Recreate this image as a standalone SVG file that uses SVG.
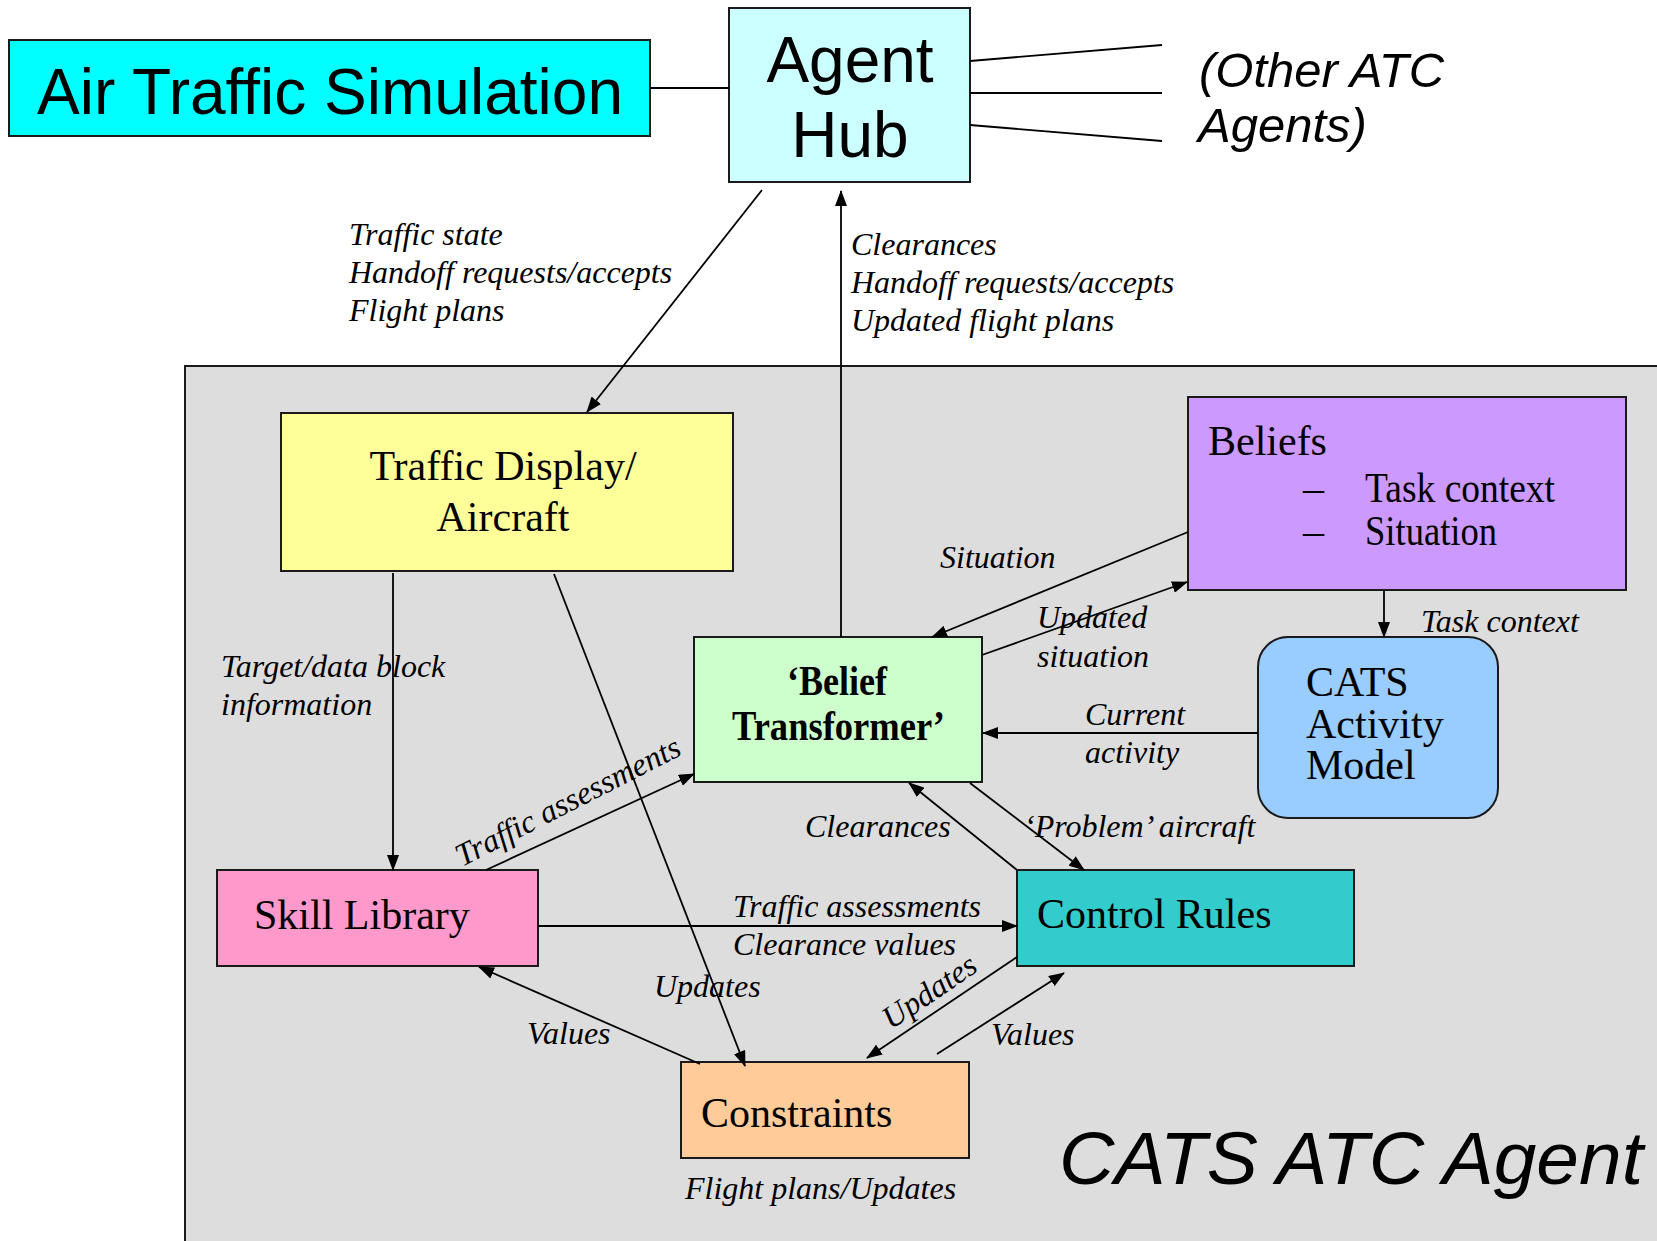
<svg xmlns="http://www.w3.org/2000/svg" width="1657" height="1241" viewBox="0 0 1657 1241">
<defs>
<marker id="ah" viewBox="0 0 16 12" refX="15" refY="6" markerWidth="16" markerHeight="12" markerUnits="userSpaceOnUse" orient="auto">
<path d="M0,0 L16,6 L0,12 z" fill="#000"/>
</marker>
<style>
.box{stroke:#1a1a1a;stroke-width:2}
.con{stroke:#000;stroke-width:1.8;fill:none}
.arr{marker-end:url(#ah)}
.sans{font-family:"Liberation Sans",Arial,sans-serif;fill:#000}
.serif{font-family:"Liberation Serif","Times New Roman",serif;fill:#000}
.lbl{font-family:"Liberation Serif","Times New Roman",serif;font-style:italic;font-size:32px;fill:#000}
.node{font-family:"Liberation Serif","Times New Roman",serif;font-size:42px;fill:#000}
</style>
</defs>
<rect width="1657" height="1241" fill="#fff"/>

<g id="cats-agent">
<rect x="185" y="366" width="1480" height="900" fill="#dddddd" class="box"/>
<text class="sans" x="1059" y="1184" font-size="75" font-style="italic" textLength="584" lengthAdjust="spacingAndGlyphs">CATS ATC Agent</text>
</g>

<g id="air-traffic-simulation">
<rect x="9" y="40" width="641" height="96" fill="#00ffff" class="box"/>
<text class="sans" x="37" y="114" font-size="64" textLength="586" lengthAdjust="spacingAndGlyphs">Air Traffic Simulation</text>
</g>

<g id="agent-hub">
<rect x="729" y="8" width="241" height="174" fill="#ccffff" class="box"/>
<text class="sans" x="850" y="82" font-size="64" text-anchor="middle">Agent</text>
<text class="sans" x="850" y="157" font-size="64" text-anchor="middle">Hub</text>
</g>

<g id="other-atc-agents">
<text class="sans" x="1199" y="87" font-size="49" font-style="italic">(Other ATC</text>
<text class="sans" x="1198" y="142" font-size="49" font-style="italic">Agents)</text>
</g>

<g id="traffic-display">
<rect x="281" y="413" width="452" height="158" fill="#ffff99" class="box"/>
<text class="node" x="503" y="480" text-anchor="middle">Traffic Display/</text>
<text class="node" x="503" y="531" text-anchor="middle">Aircraft</text>
</g>

<g id="beliefs">
<rect x="1188" y="397" width="438" height="193" fill="#cc99ff" class="box"/>
<text class="node" x="1208" y="455" font-size="40">Beliefs</text>
<text class="node" x="1303" y="502" font-size="36">–</text>
<text class="node" x="1365" y="502" font-size="36" textLength="190" lengthAdjust="spacingAndGlyphs">Task context</text>
<text class="node" x="1303" y="545" font-size="36">–</text>
<text class="node" x="1365" y="545" font-size="36" textLength="132" lengthAdjust="spacingAndGlyphs">Situation</text>
</g>

<g id="belief-transformer">
<rect x="694" y="637" width="288" height="145" fill="#ccffcc" class="box"/>
<text class="node" x="787" y="695" font-size="34" font-weight="bold" textLength="100" lengthAdjust="spacingAndGlyphs">‘Belief</text>
<text class="node" x="732" y="740" font-size="34" font-weight="bold" textLength="213" lengthAdjust="spacingAndGlyphs">Transformer’</text>
</g>

<g id="cats-activity-model">
<rect x="1258" y="637" width="240" height="181" rx="30" ry="30" fill="#99ccff" class="box"/>
<text class="node" x="1306" y="696">CATS</text>
<text class="node" x="1306" y="738">Activity</text>
<text class="node" x="1306" y="779">Model</text>
</g>

<g id="skill-library">
<rect x="217" y="870" width="321" height="96" fill="#ff99cc" class="box"/>
<text class="node" x="254" y="929">Skill Library</text>
</g>

<g id="control-rules">
<rect x="1017" y="870" width="337" height="96" fill="#33cccc" class="box"/>
<text class="node" x="1037" y="928">Control Rules</text>
</g>

<g id="constraints">
<rect x="681" y="1062" width="288" height="96" fill="#ffcc99" class="box"/>
<text class="node" x="701" y="1127">Constraints</text>
</g>

<g id="connectors">
<line class="con" x1="650" y1="88" x2="729" y2="88"/>
<line class="con" x1="970" y1="61" x2="1162" y2="45"/>
<line class="con" x1="970" y1="93" x2="1162" y2="93"/>
<line class="con" x1="970" y1="125" x2="1162" y2="141"/>
<line class="con arr" x1="762" y1="190" x2="587" y2="412"/>
<line class="con arr" x1="841" y1="637" x2="841" y2="191"/>
<line class="con arr" x1="393" y1="573" x2="393" y2="870"/>
<line class="con arr" x1="554" y1="574" x2="745" y2="1066"/>
<line class="con arr" x1="486" y1="870" x2="694" y2="774"/>
<line class="con arr" x1="1188" y1="532" x2="932" y2="637"/>
<line class="con arr" x1="982" y1="655" x2="1187" y2="582"/>
<line class="con arr" x1="1384" y1="590" x2="1384" y2="637"/>
<line class="con arr" x1="1258" y1="733" x2="983" y2="733"/>
<line class="con arr" x1="1017" y1="870" x2="909" y2="783"/>
<line class="con arr" x1="970" y1="783" x2="1084" y2="870"/>
<line class="con arr" x1="538" y1="926" x2="1017" y2="926"/>
<line class="con arr" x1="1017" y1="957" x2="867" y2="1058"/>
<line class="con arr" x1="937" y1="1054" x2="1064" y2="973"/>
<line class="con arr" x1="700" y1="1064" x2="479" y2="967"/>
</g>

<g id="labels">
<text class="lbl" x="349" y="245">Traffic state</text>
<text class="lbl" x="349" y="283">Handoff requests/accepts</text>
<text class="lbl" x="349" y="321">Flight plans</text>
<text class="lbl" x="851" y="255">Clearances</text>
<text class="lbl" x="851" y="293">Handoff requests/accepts</text>
<text class="lbl" x="851" y="331">Updated flight plans</text>
<text class="lbl" x="221" y="677">Target/data block</text>
<text class="lbl" x="221" y="715">information</text>
<text class="lbl" transform="translate(462,867) rotate(-27)">Traffic assessments</text>
<text class="lbl" x="940" y="568">Situation</text>
<text class="lbl" x="1037" y="628">Updated</text>
<text class="lbl" x="1037" y="667">situation</text>
<text class="lbl" x="1421" y="632">Task context</text>
<text class="lbl" x="1085" y="725">Current</text>
<text class="lbl" x="1085" y="763">activity</text>
<text class="lbl" x="805" y="837">Clearances</text>
<text class="lbl" x="1024" y="837">‘Problem’ aircraft</text>
<text class="lbl" x="733" y="917">Traffic assessments</text>
<text class="lbl" x="733" y="955">Clearance values</text>
<text class="lbl" x="654" y="997">Updates</text>
<text class="lbl" x="527" y="1044">Values</text>
<text class="lbl" x="991" y="1045">Values</text>
<text class="lbl" transform="translate(891,1030) rotate(-34)">Updates</text>
<text class="lbl" x="685" y="1199">Flight plans/Updates</text>
</g>
</svg>
